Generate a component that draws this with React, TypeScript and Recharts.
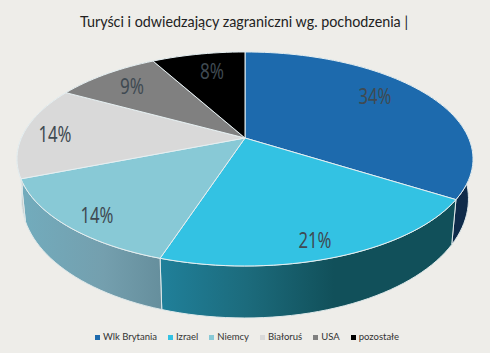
import { PieChart, Pie, Legend } from "recharts";

const categories = ["Wlk Brytania", "Izrael", "Niemcy", "Białoruś", "USA", "pozostałe"];
const shares = [34, 21, 14, 14, 9, 8];
const topColors = ["#1d6aad", "#33c2e3", "#88c9d6", "#d9d9d9", "#808080", "#000000"];
const wallColors = ["#0f2b4a", "url(#wallIzrael)", "url(#wallNiemcy)", "#c4c8c8", "#666666", "#000000"];

const rows = categories.map((name, i) => ({ name, value: shares[i], fill: topColors[i] }));

// perspective of the tilted disc
const TILT = 0.196;
const RX = 223.6;
const RY = 102.9;
const BOTTOM_SCALE = 0.98;

// label spots, hand placed like in the original
const labelSpots = [
  [375, 96],
  [315, 240],
  [97, 215],
  [55, 134],
  [132, 86],
  [212, 71],
];

function project(cx: number, cy: number, deg: number) {
  const a = (deg * Math.PI) / 180;
  const u = Math.cos(a);
  const v = Math.sin(a);
  const d = 1 + TILT * v;
  return { x: cx + (RX * u) / d, y: cy - (RY * v) / d, v };
}

function arcPoints(cx: number, cy: number, start: number, end: number) {
  const pts = [];
  const steps = Math.max(4, Math.ceil(Math.abs(end - start) / 2));
  for (let i = 0; i <= steps; i++) {
    pts.push(project(cx, cy, start + ((end - start) * i) / steps));
  }
  return pts;
}

const toPath = (pts: { x: number; y: number }[]) =>
  pts.map((p, i) => `${i ? "L" : "M"}${p.x.toFixed(2)},${p.y.toFixed(2)}`).join(" ") + " Z";

function TopFace(props: any) {
  const { cx, cy, startAngle, endAngle, fill } = props;
  const pts = [{ x: cx, y: cy }, ...arcPoints(cx, cy, startAngle, endAngle)];
  return <path d={toPath(pts)} fill={fill} stroke="#e6eff1" strokeWidth={1} strokeLinejoin="round" />;
}

function WallFace(props: any) {
  const { cx, cy, startAngle, endAngle, name } = props;
  const top = arcPoints(cx, cy, startAngle, endAngle);
  // wall is tallest at the front and gets shorter towards the sides
  const bottom = top
    .map((p) => ({
      x: cx + (p.x - cx) * BOTTOM_SCALE,
      y: p.y + 37 - 15 * p.v,
    }))
    .reverse();
  return (
    <path
      d={toPath([...top, ...bottom])}
      fill={wallColors[categories.indexOf(name)]}
      stroke="#dfe9ea"
      strokeWidth={1}
      strokeLinejoin="round"
    />
  );
}

function PercentLabel(props: any) {
  const [x, y] = labelSpots[props.index];
  const text = `${props.value}%`;
  return (
    <text
      x={x}
      y={y}
      textAnchor="middle"
      dominantBaseline="central"
      fontFamily="'Noto Sans', sans-serif"
      fontSize={21}
      fill="#3f4a52"
      textLength={text.length === 2 ? 24 : 33}
      lengthAdjust="spacingAndGlyphs"
    >
      {text}
    </text>
  );
}

function LegendRow({ payload }: any) {
  // both pies report to the legend, keep one entry per category
  const items = categories.map((c) => (payload || []).find((p: any) => p.value === c)).filter(Boolean);
  return (
    <div
      style={{
        display: "flex",
        justifyContent: "center",
        gap: 11,
        fontFamily: "Lato, 'Noto Sans', sans-serif",
        fontSize: 9.5,
        color: "#333",
        lineHeight: "12px",
        whiteSpace: "nowrap",
      }}
    >
      {items.map((item: any, i: number) => (
        <span key={item.value} style={{ display: "flex", alignItems: "center", gap: 3 }}>
          <span style={{ width: 5, height: 5, background: topColors[i], display: "inline-block" }} />
          {item.value}
        </span>
      ))}
    </div>
  );
}

export default function App() {
  return (
    <div style={{ position: "absolute", left: 0, top: 0, width: 490, height: 353, background: "#eeede9" }}>
      <PieChart width={490} height={353} margin={{ top: 0, right: 0, bottom: 0, left: 0 }}>
        <defs>
          <linearGradient id="wallIzrael" gradientUnits="userSpaceOnUse" x1={160} y1={0} x2={450} y2={0}>
            <stop offset="0" stopColor="#20809a" />
            <stop offset="0.3" stopColor="#1c6b7c" />
            <stop offset="0.6" stopColor="#11505a" />
            <stop offset="1" stopColor="#11505a" />
          </linearGradient>
          <linearGradient id="wallNiemcy" gradientUnits="userSpaceOnUse" x1={20} y1={0} x2={160} y2={0}>
            <stop offset="0" stopColor="#72acbd" />
            <stop offset="0.6" stopColor="#749fae" />
            <stop offset="1" stopColor="#668f9d" />
          </linearGradient>
        </defs>
        <text
          x={244}
          y={21}
          textAnchor="middle"
          dominantBaseline="central"
          fontFamily="Lato, 'Noto Sans', sans-serif"
          fontSize={15}
          fill="#222"
          textLength={328}
          lengthAdjust="spacingAndGlyphs"
        >
          Turyści i odwiedzający zagraniczni wg. pochodzenia |
        </text>
        <Pie
          data={rows}
          dataKey="value"
          nameKey="name"
          cx={245}
          cy={138}
          outerRadius={100}
          startAngle={90}
          endAngle={-270}
          legendType="none"
          shape={WallFace}
          isAnimationActive={false}
        />
        <Pie
          data={rows}
          dataKey="value"
          nameKey="name"
          cx={245}
          cy={138}
          outerRadius={100}
          startAngle={90}
          endAngle={-270}
          shape={TopFace}
          label={PercentLabel}
          labelLine={false}
          legendType="square"
          isAnimationActive={false}
        />
        <Legend
          content={LegendRow}
          wrapperStyle={{ position: "absolute", left: 2, top: 331, width: 490 }}
        />
      </PieChart>
    </div>
  );
}
